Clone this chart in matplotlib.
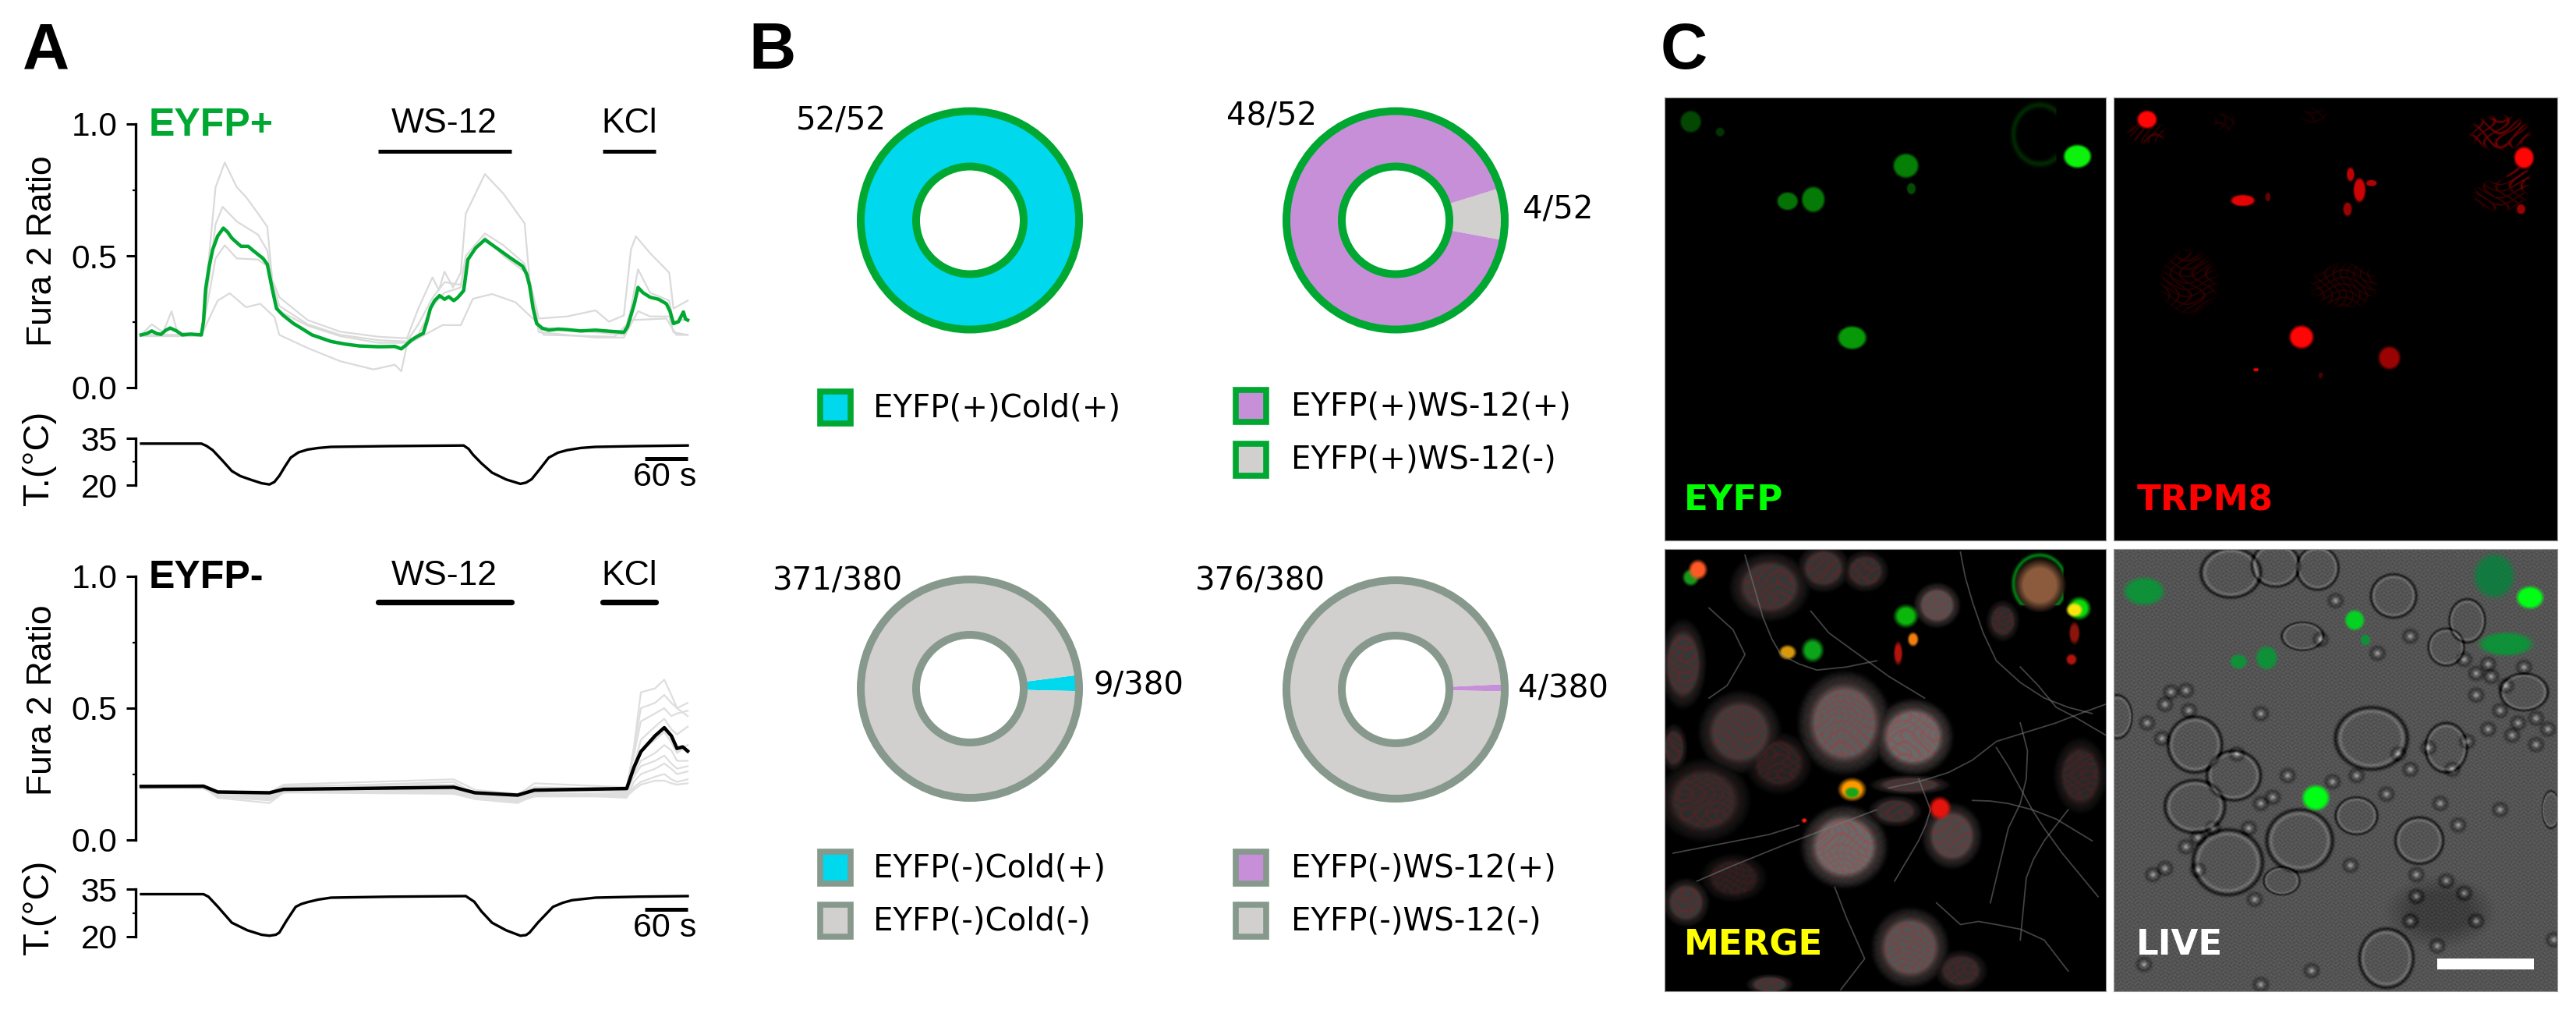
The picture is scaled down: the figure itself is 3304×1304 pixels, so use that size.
import numpy as np
import matplotlib
matplotlib.use("Agg")
import matplotlib.pyplot as plt
from matplotlib.patches import Circle, Rectangle

W, H = 3304, 1304
plt.rcParams['font.family'] = ['Liberation Sans', 'DejaVu Sans']

# ---------- panel A data ----------
green_t = [0,8,15,22,28,35,41,50,58,70,85,88,91,96,101,108,116,122,128,135,141,151,158,165,172,178,185,191,200,215,228,241,255,268,288,308,335,358,367,374,381,390,398,403,408,414,421,428,434,441,446,451,455,461,472,485,496,508,522,538,544,548,553,558,566,575,588,601,620,641,660,681,686,691,696,701,708,718,730,741,746,751,758,765,768,771]
green_v = [.20,.205,.215,.205,.202,.218,.226,.215,.20,.203,.20,.25,.374,.46,.524,.575,.605,.59,.567,.55,.536,.536,.52,.505,.49,.468,.374,.30,.275,.243,.222,.20,.187,.175,.165,.158,.155,.156,.147,.162,.18,.195,.206,.25,.30,.33,.349,.335,.345,.33,.34,.355,.368,.486,.53,.561,.54,.517,.49,.461,.43,.387,.30,.243,.225,.218,.222,.22,.215,.218,.214,.21,.23,.274,.32,.38,.36,.343,.335,.318,.29,.243,.25,.287,.26,.256]
g1_t = [0,15,31,43,51,85,95,105,118,135,148,165,178,185,195,235,281,335,375,391,411,420,428,440,451,458,485,511,541,548,561,601,641,660,681,691,698,718,745,751,771]
g1_v = [.20,.24,.21,.29,.21,.20,.474,.76,.854,.76,.723,.66,.61,.41,.343,.256,.212,.193,.187,.30,.418,.37,.44,.38,.436,.66,.81,.736,.623,.41,.262,.27,.293,.25,.274,.524,.574,.51,.436,.30,.33]
g2_t = [0,85,95,105,115,135,165,178,185,195,235,281,335,375,391,411,428,451,458,485,511,541,548,561,601,641,681,691,701,718,745,751,771]
g2_v = [.20,.20,.40,.62,.686,.63,.58,.52,.40,.31,.24,.20,.18,.175,.24,.34,.40,.39,.50,.585,.54,.47,.40,.23,.22,.21,.20,.30,.449,.36,.33,.25,.26]
g3_t = [0,85,95,105,118,135,165,178,185,195,235,281,335,375,391,411,428,451,458,485,511,541,548,561,601,641,681,691,701,718,745,751,771]
g3_v = [.195,.195,.34,.49,.54,.49,.486,.46,.36,.29,.235,.195,.17,.17,.20,.31,.36,.38,.48,.57,.50,.44,.38,.21,.20,.19,.19,.24,.29,.27,.27,.21,.20]
g4_t = [0,85,108,125,148,168,188,195,235,281,328,358,367,375,391,425,451,468,495,528,555,568,668,691,741,755,771]
g4_v = [.20,.20,.33,.358,.305,.318,.268,.20,.15,.10,.069,.087,.062,.162,.187,.237,.237,.337,.355,.324,.256,.20,.193,.256,.262,.20,.20]
temp_top_t = [0,85,92,101,115,128,140,155,170,181,188,195,203,211,222,235,250,268,350,455,462,468,480,495,515,535,543,551,562,575,588,601,620,641,700,771]
temp_top_v = [33.3,33.3,32.6,31.2,27.8,24.5,22.9,21.7,20.6,20.2,21,23,26,28.8,30.5,31.4,31.9,32.25,32.5,32.7,31.6,29.8,27,24,21.8,20.4,20.8,21.9,25,28.8,30.4,31.2,31.9,32.25,32.5,32.7]

black_t = [0,88,108,181,201,441,471,531,555,685,695,705,715,725,738,748,756,764,771]
black_v = [.203,.204,.182,.179,.192,.20,.179,.17,.189,.195,.274,.335,.365,.395,.426,.395,.347,.353,.337]
bundle_t = [0,88,108,181,201,441,471,531,555,685,695,705,725,738,748,756,771]
bundle_1 = [.205,.205,.185,.18,.21,.23,.19,.175,.20,.195,.35,.56,.575,.608,.55,.50,.47]
bundle_2 = [.20,.20,.17,.16,.20,.22,.175,.16,.19,.18,.34,.50,.52,.55,.52,.50,.52]
bundle_3 = [.20,.205,.18,.175,.205,.21,.18,.17,.215,.20,.32,.45,.48,.50,.47,.48,.49]
bundle_4 = [.195,.20,.165,.15,.18,.205,.16,.145,.175,.175,.28,.38,.43,.46,.42,.40,.43]
bundle_5 = [.20,.20,.175,.17,.19,.20,.17,.155,.185,.185,.26,.34,.38,.41,.37,.33,.36]
bundle_6 = [.20,.20,.16,.14,.18,.195,.155,.14,.17,.17,.25,.30,.33,.36,.34,.30,.30]
bundle_7 = [.20,.195,.17,.165,.195,.19,.175,.16,.18,.19,.24,.28,.30,.32,.29,.27,.28]
bundle_8 = [.205,.20,.18,.172,.19,.185,.165,.15,.178,.16,.22,.25,.27,.29,.27,.25,.26]
bundle_9 = [.20,.20,.175,.16,.185,.18,.16,.15,.17,.165,.20,.22,.24,.25,.23,.22,.23]
bundle_10 = [.20,.20,.17,.155,.18,.175,.155,.145,.165,.165,.19,.21,.225,.225,.215,.21,.215]
temp_bot_t = [0,88,95,108,128,150,170,181,190,195,205,218,226,235,250,268,350,458,470,480,495,515,535,543,548,560,581,595,608,641,700,771]
temp_bot_v = [33.4,33.4,32.6,29.5,24.4,22,20.6,20.3,20.6,21.3,25,29.4,30.3,30.9,31.7,32.3,32.6,32.8,31,28,24.4,22,20.3,20.5,21.3,24.5,29.4,30.7,31.5,32.3,32.6,32.8]

fura_ticks = [0.0, 0.5, 1.0]
fura_labels = ['0.0', '0.5', '1.0']
temp_ticks = [20, 35]

# ---------- panel B data ----------
donut_labels = [['EYFP(+)Cold(+)'], ['EYFP(+)WS-12(+)', 'EYFP(+)WS-12(-)'],
                ['EYFP(-)Cold(+)', 'EYFP(-)Cold(-)'], ['EYFP(-)WS-12(+)', 'EYFP(-)WS-12(-)']]
d1_vals = [52]
d2_vals = [4, 48]
d3_vals = [9, 371]
d4_vals = [4, 376]

CYAN, PURPLE, LGRAY = '#00D8EE', '#C68FD8', '#D2CFCF'
GREEN, BORDER = '#00A832', '#86998C'

fig = plt.figure(figsize=(W/100, H/100), dpi=100, facecolor='white')

def axpx(x0, y0, x1, y1, **kw):
    return fig.add_axes([x0/W, 1-y1/H, (x1-x0)/W, (y1-y0)/H], **kw)

ov = axpx(0, 0, W, H, zorder=10)
ov.set_xlim(0, W); ov.set_ylim(H, 0); ov.axis('off'); ov.patch.set_alpha(0)

def txt(x, y, s, size=30, color='black', ha='center', va='center', weight='normal', family=None, rot=0):
    ov.text(x, y, s, fontsize=size, color=color, ha=ha, va=va, fontweight=weight,
            family=family or ['Liberation Sans'], rotation=rot)

def bar(x0, x1, y, lw):
    ov.plot([x0, x1], [y, y], color='black', lw=lw, solid_capstyle='round' if lw > 4 else 'butt')

txt(59, 66, 'A', 60, weight='bold')
txt(991, 66, 'B', 60, weight='bold')
txt(2160, 66, 'C', 60, weight='bold')

def style_axis(ax, ticks, labels, ylim, minor):
    ax.set_xlim(-7.7, 771); ax.set_ylim(*ylim)
    for s in ['top', 'right', 'bottom']:
        ax.spines[s].set_visible(False)
    ax.spines['left'].set_linewidth(2.4)
    ax.set_xticks([])
    ax.set_yticks(ticks); ax.set_yticklabels(labels, fontsize=30.5)
    ax.set_yticks(minor, minor=True)
    ax.tick_params(axis='y', which='major', length=9, width=2.2, pad=8)
    ax.tick_params(axis='y', which='minor', length=3, width=1.6)
    ax.patch.set_alpha(0)

# top traces
a1 = axpx(174, 159, 882, 497)
for t, v in [(g1_t, g1_v), (g2_t, g2_v), (g3_t, g3_v), (g4_t, g4_v)]:
    a1.plot(t, v, color='#DADADA', lw=1.6, clip_on=False)
a1.plot(green_t, green_v, color=GREEN, lw=3.2, clip_on=False)
style_axis(a1, fura_ticks, fura_labels, (0, 1), [0.25, 0.75])
t1 = axpx(174, 562, 882, 622)
t1.plot(temp_top_t, temp_top_v, color='black', lw=2.4, clip_on=False)
style_axis(t1, temp_ticks, ['20', '35'], (20, 35), [27.5])

# bottom traces
a2 = axpx(174, 739, 882, 1077)
for row in [bundle_1, bundle_2, bundle_3, bundle_4, bundle_5, bundle_6, bundle_7, bundle_8, bundle_9, bundle_10]:
    a2.plot(bundle_t, row, color='#DEDEDE', lw=1.6, clip_on=False)
a2.plot(black_t, black_v, color='black', lw=3.2, clip_on=False)
style_axis(a2, fura_ticks, fura_labels, (0, 1), [0.25, 0.75])
t2 = axpx(174, 1140, 882, 1201)
t2.plot(temp_bot_t, temp_bot_v, color='black', lw=2.4, clip_on=False)
style_axis(t2, temp_ticks, ['20', '35'], (20, 35), [27.5])

for yc, yt in [(322, 587), (898, 1163)]:
    txt(55, yc, 'Fura 2 Ratio', 32, rot=90)
    txt(50, yt, 'T.(°C)', 34, rot=90)
txt(191, 161, 'EYFP+', 36, color=GREEN, ha='left', weight='bold')
txt(191, 741, 'EYFP-', 36, ha='left', weight='bold')
for y, ybar, lw in [(159, 193.5, 3.6), (739, 772, 5.2)]:
    txt(570, y, 'WS-12', 32)
    txt(807, y, 'KCl', 32)
    bar(485, 656, ybar, lw)
    bar(773, 841, ybar, lw)
for ybar, yt in [(588, 612), (1166, 1190)]:
    bar(827, 882, ybar, 3.6)
    txt(853, yt, '60 s', 31)

# ---------- panel B ----------
def donut(cx, cy, vals, cols, start, edge):
    ax = axpx(cx-160, cy-160, cx+160, cy+160)
    ax.set_xlim(-160, 160); ax.set_ylim(-160, 160); ax.set_aspect('equal'); ax.axis('off')
    ax.pie(vals, colors=cols, startangle=start, radius=141, center=(0, 0), frame=False,
           wedgeprops=dict(width=72, linewidth=0))
    ax.set_xlim(-160, 160); ax.set_ylim(-160, 160)
    for r in (140, 69):
        ax.add_patch(Circle((0, 0), r, fill=False, ec=edge, lw=7.2))

donut(1244, 282.5, d1_vals, [CYAN], 0, GREEN)
donut(1790, 282.5, d2_vals, [LGRAY, PURPLE], -10.5, GREEN)
donut(1244, 883, d3_vals, [CYAN, LGRAY], -1.3, BORDER)
donut(1790, 884, d4_vals, [PURPLE, LGRAY], -1, BORDER)

DJ = ['DejaVu Sans']
for x, y, s in [(1079, 155, '52/52'), (1631, 150, '48/52'), (1998, 270, '4/52'),
                (1074, 746, '371/380'), (1460, 880, '9/380'), (1616, 746, '376/380'), (2005, 883, '4/380')]:
    txt(x, y, s, 29, family=DJ)

def legend_item(x0, y0, fill, edge, label, xt, yt):
    ov.add_patch(Rectangle((x0+4, y0+4), 39, 41, fc=fill, ec=edge, lw=5.5))
    txt(xt, yt, label, 29, ha='left', family=DJ)

legend_item(1048, 497.5, CYAN, GREEN, donut_labels[0][0], 1120, 523)
legend_item(1581, 496, PURPLE, GREEN, donut_labels[1][0], 1656, 521)
legend_item(1581, 565, LGRAY, GREEN, donut_labels[1][1], 1656, 590)
legend_item(1048, 1088, CYAN, BORDER, donut_labels[2][0], 1120, 1113)
legend_item(1048, 1156, LGRAY, BORDER, donut_labels[2][1], 1120, 1182)
legend_item(1581, 1088, PURPLE, BORDER, donut_labels[3][0], 1656, 1113)
legend_item(1581, 1156, LGRAY, BORDER, donut_labels[3][1], 1656, 1182)

# ---------- panel C : hand-placed cells ----------
def grid(x0, x1, y0, y1, n=440):
    return np.meshgrid(np.linspace(x0, x1, n), np.linspace(y0, y1, n))

def dist(X, Y, cx, cy, rx, ry):
    return np.sqrt(((X-cx)/rx)**2 + ((Y-cy)/ry)**2)

def soft(X, Y, cx, cy, rx, ry, e=.3):
    return np.clip((1-dist(X, Y, cx, cy, rx, ry))/e, 0, 1)

def ring(X, Y, cx, cy, rx, ry, w=.1):
    return np.exp(-((dist(X, Y, cx, cy, rx, ry)-1)/w)**2)

def mesh(X, Y):
    a = X*.21 + 3*np.sin(Y*.05) + 2*np.sin(X*.037)
    b = Y*.12 + 3*np.sin(X*.06) + 2*np.sin(Y*.023)
    return np.maximum(np.exp(-(np.sin(a)/.3)**2), np.exp(-(np.sin(b)/.3)**2))

def show(ext_px, img, ext_z):
    ax = axpx(*ext_px)
    ax.imshow(np.clip(img, 0, 1), extent=[ext_z[0], ext_z[1], ext_z[3], ext_z[2]],
              aspect='auto', interpolation='bilinear')
    ax.set_xlim(ext_z[0], ext_z[1]); ax.set_ylim(ext_z[3], ext_z[2])
    ax.set_xticks([]); ax.set_yticks([])
    for s in ax.spines.values():
        s.set_color('#999999'); s.set_linewidth(.8)
    return ax

# EYFP
eyfp_cells = [(735,448,25,36,.95),(448,475,23,38,.5),(250,577,19,28,.45),(293,572,21,40,.48),
              (358,970,26,36,.6),(457,541,8,18,.3),(88,348,19,34,.28),(137,378,8,14,.2)]
Z = (45, 783, 280, 1552)
X, Y = grid(*Z)
g = np.zeros_like(X)
for c in eyfp_cells:
    g = np.maximum(g, c[4]*soft(X, Y, *c[:4], e=.22))
g = np.maximum(g, .16*ring(X, Y, 672, 385, 44, 85, .1)*(X < 700))
img = np.dstack([g*.05, g, g*.05])
show((2134.5, 125, 2701, 693), img, Z)

# TRPM8
trpm_cells = [(850,342,18,28,1),(1480,452,18,34,1),(1010,575,22,18,.9),(1205,545,11,38,.8),(1190,500,7,22,.75),
              (1185,600,8,22,.6),(1225,525,10,10,.7),(1108,968,22,36,1),(1255,1028,20,36,.6),
              (1032,1062,5,6,.9),(1475,600,8,16,.6),(1052,565,5,14,.4),(1140,1078,4,10,.3)]
trpm_dim = [(920,810,52,100,.22),(1180,820,60,70,.22),(1440,380,55,55,.5),(1470,510,22,45,.5),
            (1440,560,50,50,.28),(850,380,35,35,.3),(980,350,20,30,.15),(1130,330,25,25,.13)]
Z = (795, 1536, 280, 1552)
X, Y = grid(*Z)
r = np.zeros_like(X)
net = mesh(X, Y)
for c in trpm_dim:
    r = np.maximum(r, c[4]*soft(X, Y, *c[:4], e=.25)*net)
for c in trpm_cells:
    r = np.maximum(r, c[4]*soft(X, Y, *c[:4], e=.25))
img = np.dstack([r, r*.02, r*.02])
show((2710.6, 125, 3280, 693), img, Z)

# MERGE
merge_gray = [(345,620,70,150,.46),(460,665,60,110,.52),(345,1020,65,120,.52),(170,650,62,120,.3),(525,985,45,95,.36),
              (455,1345,58,115,.42),(500,240,35,65,.4),(75,430,35,130,.27),(110,870,70,120,.22),(220,180,60,100,.27),
              (310,120,40,70,.26),(380,130,35,60,.24),(80,1200,35,70,.28),(740,790,40,110,.2),(610,290,25,60,.22),
              (160,1120,50,70,.16),(235,750,50,90,.18),(540,1420,40,60,.22),(220,1465,35,30,.28),(455,820,60,28,.28),
              (430,905,40,45,.25),(60,700,20,70,.22)]
merge_neurites = [
    ([420,470,520,560,600,650,700,740,783],[830,810,780,740,680,650,620,590,560]),
    ([60,100,140,180,220,270],[1040,1025,1010,995,980,950]),
    ([540,548,560,578,600,640,680,720,760],[70,150,230,330,420,490,540,570,590]),
    ([640,655,670,685,700,715,730,783],[440,470,500,535,570,585,600,660]),
    ([180,195,210,225,240,270,300,350,400],[80,180,280,350,400,430,450,440,420]),
    ([640,652,650,640,620,605,590],[620,710,800,880,960,1080,1200]),
    ([720,700,680,662,650,645,640],[900,950,1000,1060,1120,1220,1320]),
    ([500,540,570,600,640,680,720],[1200,1270,1260,1270,1285,1320,1420]),
    ([100,130,160,205,250,325,400],[1130,1105,1080,1045,1010,955,900]),
    ([430,450,470,482,490,480,470],[1130,1065,1000,950,900,850,800]),
    ([560,590,620,660,700,730,760],[870,872,880,900,930,965,1000]),
    ([330,340,350,365,380,360,340],[1150,1200,1250,1315,1380,1430,1480]),
    ([290,305,320,370,420,450,480],[260,295,330,400,470,505,540]),
    ([600,620,640,660,680,710,770],[700,760,830,900,960,1040,1180]),
    ([120,160,180,150,120],[250,320,400,500,540])]
merge_colour = [(88,150,15,30,(.1,.6,.1)),(100,125,17,35,(1,.35,.15)),(672,175,45,90,(.55,.36,.24)),
                (448,275,22,40,(.05,.72,.05)),(250,392,16,26,(.85,.6,.05)),(292,385,20,42,(.05,.65,.1)),
                (738,250,21,40,(.05,.85,.05)),(730,255,15,25,(1,.9,.05)),(358,835,25,40,(1,.6,.0)),
                (358,845,14,20,(.1,.65,.1)),(505,895,20,40,(.9,.08,.05)),(460,350,10,25,(.95,.5,.05)),
                (435,395,8,42,(.7,.08,.05)),(730,330,10,40,(.55,.08,.05)),(725,415,10,20,(.7,.08,.05)),
                (278,935,5,8,(1,.1,.05))]
Z = (45, 783, 60, 1485)
X, Y = grid(*Z)
net = mesh(X, Y)
gray = np.zeros_like(X)
red = np.zeros_like(X)
for c in merge_gray:
    s = soft(X, Y, *c[:4], e=.3)
    gray = np.maximum(gray, c[4]*(.8*s + .25*ring(X, Y, *c[:4], .1)))
    red = np.maximum(red, .16*s*net)
img = np.dstack([gray+red, gray*(1-.25*net), gray*(1-.25*net)])
for c in merge_colour:
    m = soft(X, Y, *c[:4], e=.4)[..., None]
    img = img*(1-m) + np.array(c[4])*m
m = (.75*ring(X, Y, 672, 170, 44, 92, .07)*(X < 712)*(Y < 240))[..., None]
img = img*(1-m) + np.array((.0, .65, .1))*m
axm = show((2134.5, 704, 2701, 1271), img, Z)
for xs, ys in merge_neurites:
    axm.plot(xs, ys, color='#7a7a7a', lw=1.3, alpha=.55)

# LIVE
live_cells = [(990,135,50,80),(1065,110,40,70),(1135,120,35,70),(1262,210,38,70),(930,690,45,90),(995,790,45,80),
              (1225,670,60,100),(930,890,50,85),(1105,1000,55,100),(985,1070,58,105),(1305,1000,40,75),(1200,920,35,60),
              (1250,1380,45,95),(1075,1130,30,45),(1350,700,35,80),(1385,290,30,70),(1350,375,30,60),(1525,900,15,60),
              (1110,340,35,45),(800,600,25,70),(1480,520,40,60)]
live_beads = [(890,520),(915,515),(880,560),(920,580),(850,620),(875,670),(1040,590),(1040,880),(1060,860),(1020,960),
              (960,960),(935,990),(915,1020),(880,1090),(935,1095),(860,1110),(1425,470),(1450,500),(1400,530),(1440,580),
              (1470,620),(1500,605),(1520,640),(1420,640),(1385,680),(1500,690),(1460,660),(1250,850),(1290,770),(1340,880),
              (1360,770),(1200,790),(1160,810),(1290,340),(1165,225),(1140,350),(1235,395),(1440,900),(1370,950),(1030,1190),
              (1190,1080),(1000,720),(1085,790),(1300,1110),(1350,1130),(1335,1340),(1530,1320),(845,1400),(1125,1420),(1040,1465),
              (1420,430),(1480,440),(1380,415),(1400,460),(1270,720),(1320,700),(1300,1180),(1380,1170),(1290,1260),(1400,1260)]
live_green = [(845,195,38,50,.6),(1430,145,38,80,.5),(1490,215,25,40,1),(1197,288,18,36,.85),(1215,352,9,20,.6),
              (1003,422,16,26,.6),(1050,410,20,42,.6),(1132,862,25,45,1),(1450,365,50,42,.6)]
Z = (795, 1536, 60, 1485)
X, Y = grid(*Z)
v = .33 + .025*np.sin(X*.9+2*np.sin(Y*.31)) + .025*np.sin(Y*.5+2*np.sin(X*.43))
v -= .09*soft(X, Y, 1340, 1230, 95, 120, e=.5)
for c in live_cells:
    v = v - .22*ring(X, Y, *c, .06) + .11*ring(X, Y, c[0], c[1], c[2]*.87, c[3]*.87, .06)
for bx, by in live_beads:
    v = v - .11*ring(X, Y, bx, by, 11, 20, .3) + .3*soft(X, Y, bx, by, 6, 11, e=.9)
img = np.dstack([v, v, v])
for c in live_green:
    m = soft(X, Y, *c[:4], e=.3)[..., None]*(.55+.45*c[4])
    col = np.array((.0, .95*c[4]+.05, .3*(1-c[4])+.08))
    img = img*(1-m) + col*m
axl = show((2710.6, 704, 3280, 1271), img, Z)
axl.add_patch(Rectangle((1335, 1380), 162, 35, fc='white', ec='none'))

BOLD = ['DejaVu Sans']
txt(2160, 642, 'EYFP', 32.5, color='#00FF00', ha='left', weight='bold', family=BOLD)
txt(2741, 642, 'TRPM8', 32.5, color='#FF0000', ha='left', weight='bold', family=BOLD)
txt(2160, 1212, 'MERGE', 32.5, color='#FFFF00', ha='left', weight='bold', family=BOLD)
txt(2740, 1212, 'LIVE', 32.5, color='white', ha='left', weight='bold', family=BOLD)

fig.savefig('out.png', dpi=100, facecolor='white')
